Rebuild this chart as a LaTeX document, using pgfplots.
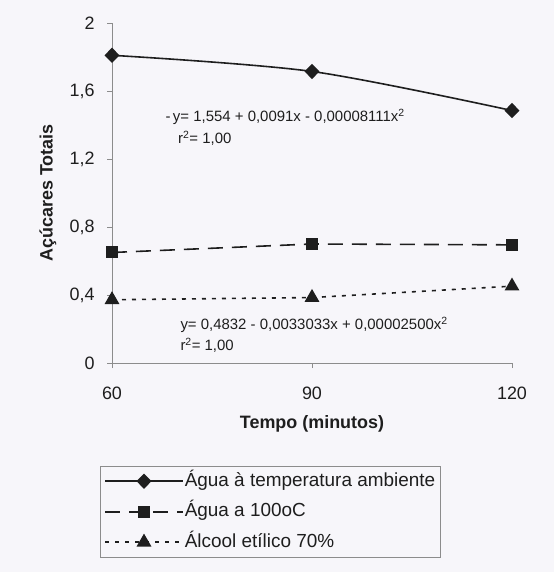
\documentclass[border=0pt]{standalone}
\usepackage{fontspec}
\setmainfont{Liberation Sans}
\usepackage{pgfplots}
\pgfplotsset{compat=1.18}
\definecolor{bg}{RGB}{247,246,250}
\definecolor{ink}{RGB}{30,30,30}
\definecolor{axgray}{RGB}{140,140,140}
\begin{document}
\begin{tikzpicture}
\fill[bg] (0,0) rectangle (554bp,572bp);
\begin{axis}[
  at={(112bp,209bp)}, anchor=south west,
  width=400bp, height=340bp, scale only axis,
  xmin=60, xmax=120, ymin=0, ymax=2,
  clip=false,
  axis lines=left,
  axis line style={-, axgray, line width=0.8bp},
  xtick={60,90,120},
  ytick={0,0.4,0.8,1.2,1.6,2},
  tick align=outside,
  major tick length=5bp,
  tick style={axgray, line width=0.8bp},
  ticklabel style={font=\fontsize{18}{20}\selectfont, text=ink},
  /pgf/number format/assume math mode=true,
  yticklabel style={xshift=-9bp, /pgf/number format/use comma, /pgf/number format/fixed, /pgf/number format/precision=1},
  xticklabel style={yshift=-15bp},
  xlabel={Tempo (minutos)},
  xlabel style={at={(axis description cs:0.5,-0.18)}, anchor=center, font=\bfseries\fontsize{18}{20}\selectfont, text=ink},
  ylabel={Açúcares Totais},
  ylabel style={at={(axis description cs:-0.16,0.5)}, anchor=center, font=\bfseries\fontsize{18}{20}\selectfont, text=ink},
  legend style={at={(axis description cs:-0.03,-0.303)}, anchor=north west,
    draw=axgray, fill=none, font=\fontsize{19}{22}\selectfont, text=ink,
    row sep=8.5bp, inner xsep=4bp, inner ysep=4bp,
    nodes={inner ysep=2bp, inner xsep=1bp, text height=14bp, text depth=4bp},
    cells={anchor=west}},
  legend image code/.code={\draw[mark repeat=2,mark phase=2] plot coordinates {(0bp,0bp) (39bp,0bp) (78bp,0bp)};},
]
\addplot[ink, line width=1.6bp, smooth, mark=diamond*, mark size=6.5bp, mark options={solid, fill=ink, xscale=1.3}]
  coordinates {(60,1.81) (90,1.715) (120,1.485)};
\addlegendentry{Água à temperatura ambiente}
\addplot[ink, line width=1.6bp, dash pattern=on 15bp off 9bp, mark=square*, mark size=5.2bp, mark options={solid, fill=ink}]
  coordinates {(60,0.65) (90,0.70) (120,0.695)};
\addlegendentry{Água a 100oC}
\addplot[ink, line width=1.6bp, dash pattern=on 4bp off 6bp, mark=triangle*, mark size=7bp, mark options={solid, fill=ink}]
  coordinates {(60,0.372) (90,0.385) (120,0.452)};
\addlegendentry{Álcool etílico 70\%}
\node[anchor=west, font=\fontsize{15}{17}\selectfont, text=ink] at (axis cs:67.5,1.447) {-\,y= 1,554 + 0,0091x - 0,00008111x\textsuperscript{2}};
\node[anchor=west, font=\fontsize{15}{17}\selectfont, text=ink] at (axis cs:69.4,1.32) {r\textsuperscript{2}= 1,00};
\node[anchor=west, font=\fontsize{15}{17}\selectfont, text=ink] at (axis cs:69.75,0.224) {y= 0,4832 - 0,0033033x + 0,00002500x\textsuperscript{2}};
\node[anchor=west, font=\fontsize{15}{17}\selectfont, text=ink] at (axis cs:69.75,0.106) {r\textsuperscript{2}= 1,00};
\end{axis}
\pgfresetboundingbox
\useasboundingbox (0,0) rectangle (554bp,572bp);
\end{tikzpicture}
\end{document}
